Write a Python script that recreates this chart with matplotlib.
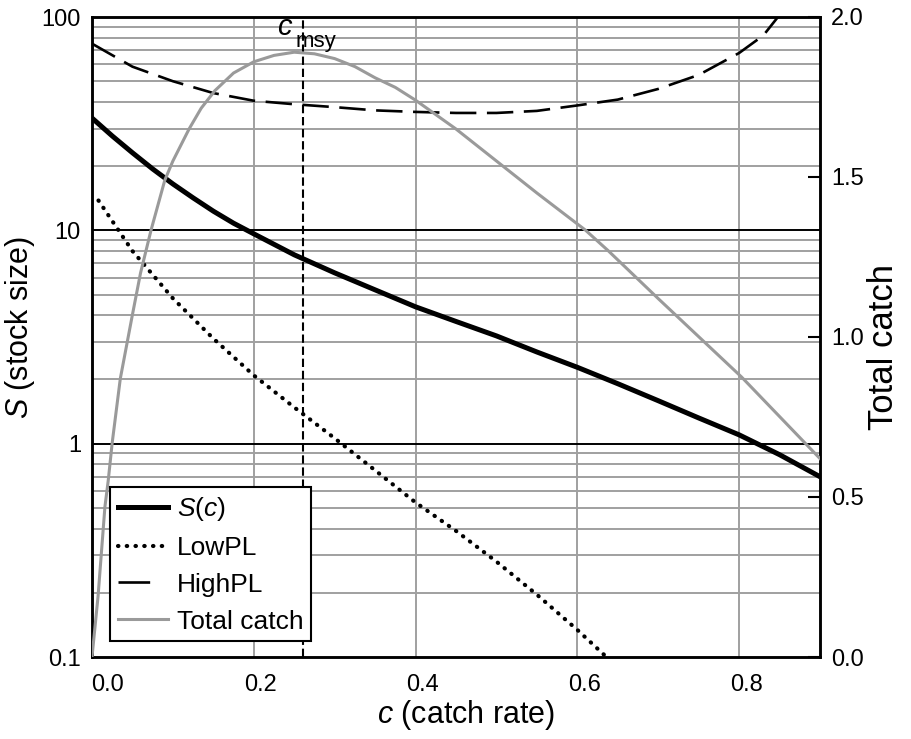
import numpy as np
import matplotlib
matplotlib.use("Agg")
import matplotlib.pyplot as plt
from matplotlib.lines import Line2D
from matplotlib.transforms import ScaledTranslation

# ---------------------------------------------------------------------------
# Data
# ---------------------------------------------------------------------------
c_stock = [0.0, 0.025, 0.05, 0.075, 0.1, 0.125, 0.15, 0.175, 0.2, 0.25, 0.3,
           0.35, 0.4, 0.45, 0.5, 0.55, 0.6, 0.65, 0.7, 0.75, 0.8, 0.85, 0.9]
stock = [33.6, 27.7, 23.1, 19.4, 16.5, 14.2, 12.3, 10.8, 9.63, 7.68, 6.32,
         5.26, 4.38, 3.74, 3.2, 2.69, 2.28, 1.91, 1.59, 1.32, 1.1, 0.888, 0.70]

c_low = [0.008, 0.05, 0.1, 0.15, 0.2, 0.25, 0.3, 0.35, 0.4, 0.45, 0.5,
         0.55, 0.6, 0.636]
low_pl = [13.8, 8.0, 4.8, 3.11, 2.09, 1.48, 1.06, 0.75, 0.53, 0.39, 0.28,
          0.196, 0.134, 0.1]

c_high = [0.0, 0.05, 0.1, 0.15, 0.2, 0.25, 0.3, 0.35, 0.4, 0.45, 0.5,
          0.55, 0.6, 0.65, 0.7, 0.75, 0.8, 0.83, 0.848]
high_pl = [75, 58.5, 50, 44, 40.5, 39, 37.8, 36.5, 35.9, 35.5, 35.5,
           36.3, 38.5, 41, 46, 53.5, 67.8, 82, 100]

c_catch = [0.0, 0.0075, 0.016, 0.02, 0.025, 0.035, 0.05, 0.06, 0.073, 0.09,
           0.1, 0.12, 0.135, 0.152, 0.175, 0.2, 0.225, 0.25, 0.275, 0.3,
           0.325, 0.35, 0.375, 0.4, 0.45, 0.5, 0.55, 0.61, 0.638, 0.7,
           0.803, 0.9]
total_catch = [0.0, 0.19, 0.47, 0.55, 0.67, 0.87, 1.07, 1.2, 1.334, 1.49,
               1.55, 1.65, 1.715, 1.77, 1.825, 1.86, 1.88, 1.89, 1.885, 1.87,
               1.845, 1.81, 1.78, 1.74, 1.65, 1.55, 1.45, 1.334, 1.27, 1.12,
               0.875, 0.62]

c_msy = 0.261

x_ticks = [0.0, 0.2, 0.4, 0.6, 0.8]
x_tick_labels = ["0.0", "0.2", "0.4", "0.6", "0.8"]
left_ticks = [0.1, 1, 10, 100]
left_tick_labels = ["0.1", "1", "10", "100"]
right_ticks = [0.0, 0.5, 1.0, 1.5, 2.0]
right_tick_labels = ["0.0", "0.5", "1.0", "1.5", "2.0"]

# ---------------------------------------------------------------------------
# Style
# ---------------------------------------------------------------------------
plt.rcParams["font.family"] = ["Liberation Sans", "DejaVu Sans"]
plt.rcParams["mathtext.fontset"] = "custom"
plt.rcParams["mathtext.rm"] = "Liberation Sans"
plt.rcParams["mathtext.it"] = "Liberation Sans:italic"

GRID_GRAY = "#a0a0a0"
CATCH_GRAY = "#9a9a9a"
TICK_SIZE = 17

fig = plt.figure(figsize=(9.12, 7.39), dpi=100)
ax = fig.add_axes([92 / 912, 1 - 657 / 739, 728 / 912, 640 / 739])
ax2 = ax.twinx()

# gridlines: vertical gray, horizontal minor gray, decades black
for xv in x_ticks[1:]:
    ax.axvline(xv, color=GRID_GRAY, lw=1.4, zorder=0)
for dec in [0.1, 1, 10]:
    for m in range(2, 10):
        ax.axhline(dec * m, color=GRID_GRAY, lw=1.4, zorder=0)
for yv in [1, 10]:
    ax.axhline(yv, color="black", lw=1.4, zorder=0.5)

# curves on the log axis
ax.plot(c_high, high_pl, color="black", lw=1.9, ls=(0, (10, 4)), zorder=3)
ax.plot(c_low, low_pl, color="black", lw=3.0, ls=(0, (0.1, 2.0)),
        dash_capstyle="round", zorder=3)
ax.plot(c_stock, stock, color="black", lw=3.6, zorder=3)
ax.axvline(c_msy, color="black", lw=1.5, ls=(0, (4, 1.8)), zorder=2)

ax.set_yscale("log")
ax.set_xlim(0, 0.9)
ax.set_ylim(0.1, 100)
ax.set_xticks(x_ticks)
ax.set_xticklabels(x_tick_labels)
ax.set_yticks(left_ticks)
ax.set_yticklabels(left_tick_labels)
ax.yaxis.set_minor_locator(matplotlib.ticker.NullLocator())
ax.tick_params(axis="x", length=0, pad=12, labelsize=TICK_SIZE)
ax.tick_params(axis="y", length=0, pad=8, labelsize=TICK_SIZE)
for i, lab in enumerate(ax.get_xticklabels()):
    dx = 11 if i == 0 else 5   # first label sits further right in the original
    lab.set_transform(lab.get_transform() + ScaledTranslation(dx / 72, 0, fig.dpi_scale_trans))

ax.set_xlabel("$c$ (catch rate)", fontsize=22)
ax.xaxis.set_label_coords(0.514, -0.064)
ax.set_ylabel("$S$ (stock size)", fontsize=22)
ax.yaxis.set_label_coords(-0.076, 0.515)

# c_msy label: italic c with a lowered "msy"
xt = ax.get_xaxis_transform()
ax.text(0.229, 0.972, "c", style="italic", transform=xt, ha="left",
        va="baseline", fontsize=21, zorder=4)
ax.text(0.252, 0.953, "msy", transform=xt, ha="left", va="baseline",
        fontsize=16, zorder=4)

# total catch on the right axis
ax2.plot(c_catch, total_catch, color=CATCH_GRAY, lw=2.2, zorder=3)
ax2.set_ylim(0, 2.0)
ax2.set_yticks(right_ticks)
ax2.set_yticklabels(right_tick_labels)
ax2.tick_params(axis="y", direction="in", length=9, width=1.5, pad=8,
                labelsize=TICK_SIZE)
ax2.set_ylabel("Total catch", fontsize=25, rotation=90)
ax2.yaxis.set_label_coords(1.065, 0.484)

for a in (ax, ax2):
    for sp in a.spines.values():
        sp.set_linewidth(1.8)
        sp.set_color("black")

# legend with proxy handles
handles = [
    Line2D([], [], color="black", lw=3.6),
    Line2D([], [], color="black", lw=3.0, ls=(0, (0.1, 2.0)), dash_capstyle="round"),
    Line2D([], [], color="black", lw=1.9, ls=(0, (12, 40))),
    Line2D([], [], color=CATCH_GRAY, lw=2.2),
]
labels = ["$S$($c$)", "LowPL", "HighPL", "Total catch"]
leg = ax2.legend(handles, labels, loc="lower left", bbox_to_anchor=(0.025, 0.025),
                 borderaxespad=0, fontsize=19, frameon=True, fancybox=False,
                 framealpha=1, edgecolor="black", handlelength=1.9,
                 handletextpad=0.35, labelspacing=0.49, borderpad=0.28)
leg.get_frame().set_linewidth(1.5)
leg.set_zorder(10)

fig.savefig("out.png", dpi=100)
